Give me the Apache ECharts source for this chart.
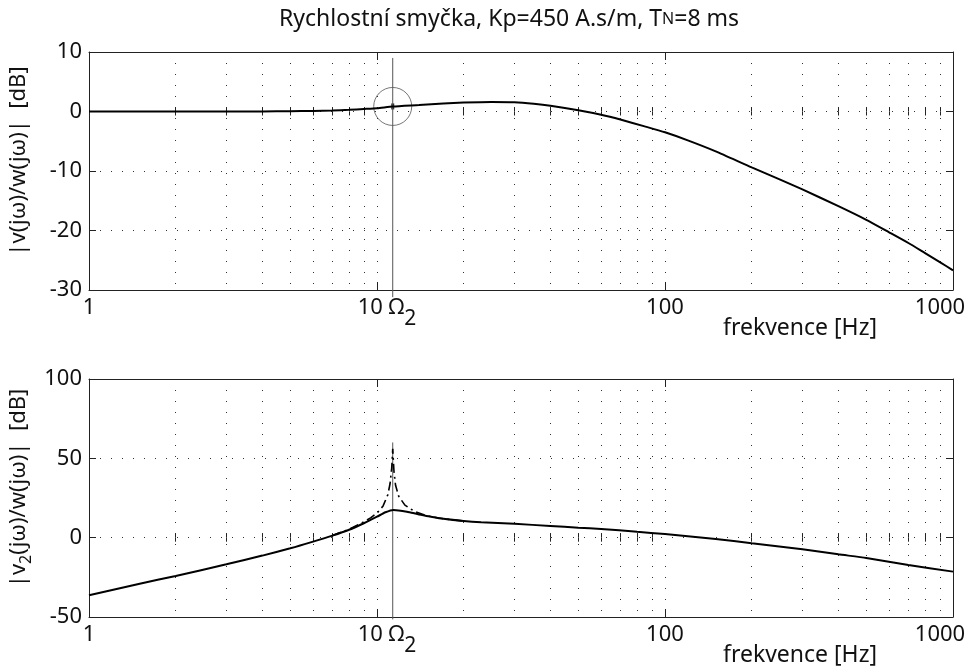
<!DOCTYPE html>
<html><head><meta charset="utf-8">
<script src="https://cdn.jsdelivr.net/npm/echarts@6/dist/echarts.min.js"></script>
<style>html,body{margin:0;padding:0;background:#fff}#c{width:970px;height:669px}</style>
</head><body><div id="c"></div>
<script>
// ---- data ----
const freqTop = [1, 2, 3, 4, 5, 6, 7, 8, 9, 10, 11.34, 14, 17, 20, 25, 30, 35, 40, 50, 60, 70, 85, 100, 120, 150, 200, 250, 300, 400, 500, 600, 700, 800, 900, 1000];
const magTop  = [0, 0, 0.01, 0.02, 0.05, 0.09, 0.15, 0.28, 0.42, 0.55, 0.85, 1.1, 1.35, 1.5, 1.6, 1.55, 1.3, 0.97, 0.2, -0.55, -1.35, -2.5, -3.5, -4.85, -6.7, -9.4, -11.4, -13.1, -15.9, -18.2, -20.3, -22.1, -23.8, -25.3, -26.7];
const freqBot = [1, 1.5, 2, 3, 4, 5, 6, 7, 8, 9, 10, 10.7, 11.4, 12.7, 14, 15.3, 17, 20, 23, 30, 40, 50, 60, 80, 100, 150, 200, 300, 400, 500, 700, 1000];
const magBot  = [-36.3, -29.0, -24.1, -16.8, -11.3, -6.7, -2.5, 1.3, 5.0, 9.1, 13.2, 16.0, 17.5, 16.4, 14.6, 13.3, 11.9, 10.5, 9.7, 8.7, 7.4, 6.3, 5.5, 3.7, 2.3, -0.8, -3.5, -7.3, -10.5, -12.8, -17.2, -21.4];
const freqDash = [7, 8, 9, 9.5, 10, 10.5, 10.9, 11.1, 11.25, 11.34, 11.45, 11.6, 11.9, 12.5, 13.5, 15, 17, 20];
const magDash  = [1.4, 5.3, 10.0, 12.5, 15.5, 20.0, 27.0, 34.0, 44.0, 56.0, 42.0, 33.0, 26.0, 20.5, 16.5, 13.6, 11.9, 10.5];
const omega2 = 11.34;
const markerTopDb = 0.85;
const omegaLineTop = [9, -31.2];
const omegaLineBot = [60, -51.5];
const xMajorTicks = [1, 10, 100, 1000];
const xMinorTicks = [2,3,4,5,6,7,8,9,20,30,40,50,60,70,80,90,200,300,400,500,600,700,800,900];
const yRangeTop = {min: -30, max: 10, interval: 10};
const yRangeBot = {min: -50, max: 100, interval: 50};
const titleParts = ['Rychlostní smyčka, Kp=450 A.s/m, T', 'N', '=8 ms'];
const yNameTopParts = ['|v(jω)/w(jω)|  [dB]'];
const yNameBotParts = ['|v', '2', '(jω)/w(jω)|  [dB]'];
const xName = 'frekvence [Hz]';

// ---- chart ----
const FONT = 'Noto Sans';
const INK = '#111';
const AX = '#222';
const dotted = {show: true, lineStyle: {color: '#333', width: 1, type: [1, 10]}};
const zip = (a, b) => a.map((v, i) => [v, b[i]]);

function xLabel(v) {
  const r = Math.round(v);
  if (r === 10) return '{p|}{n|10 Ω}{s|2}';
  if (r === 1000) return '{m|1000}{q|}';
  return String(r);
}

function xAxes(gi) {
  const base = {type: 'log', logBase: 10, min: 1, max: 1000, gridIndex: gi};
  return [
    Object.assign({}, base, {
      position: 'bottom',
      axisLine: {show: true, onZero: false, lineStyle: {color: AX, width: 1}},
      axisTick: {show: true, inside: true, length: 8, customValues: xMajorTicks, lineStyle: {color: AX}},
      axisLabel: {show: true, customValues: xMajorTicks, margin: 7, color: INK, fontFamily: FONT, fontSize: 22,
        hideOverlap: false, formatter: xLabel,
        rich: {
          p: {width: 20},
          q: {width: 26},
          m: {fontSize: 22, fontFamily: FONT, color: INK},
          n: {fontSize: 22, fontFamily: FONT, color: INK, padding: [0, 0, 11, 0]},
          s: {fontSize: 21, fontFamily: FONT, color: INK, padding: [11, 0, 0, 0]}
        }},
      splitLine: dotted,
      name: xName, nameLocation: 'middle', nameGap: 27, nameMoveOverlap: false,
      nameTextStyle: {fontFamily: FONT, fontSize: 23, color: INK, padding: [0, 0, 0, 558], verticalAlign: 'top'}
    }),
    Object.assign({}, base, {
      position: 'bottom',
      axisLine: {show: false},
      axisTick: {show: true, inside: true, length: 4, customValues: xMinorTicks, lineStyle: {color: AX}},
      axisLabel: {show: false},
      splitLine: dotted
    }),
    Object.assign({}, base, {
      position: 'top',
      axisLine: {show: true, onZero: false, lineStyle: {color: AX, width: 1}},
      axisTick: {show: true, inside: true, length: 8, customValues: xMajorTicks, lineStyle: {color: AX}},
      axisLabel: {show: false}, splitLine: {show: false}
    }),
    Object.assign({}, base, {
      position: 'top',
      axisLine: {show: false},
      axisTick: {show: true, inside: true, length: 4, customValues: xMinorTicks, lineStyle: {color: AX}},
      axisLabel: {show: false}, splitLine: {show: false}
    })
  ];
}
function yName(parts) {
  if (parts.length === 1) return '{a|' + parts[0] + '}';
  return '{a|' + parts[0] + '}{s|' + parts[1] + '}{a|' + parts[2] + '}';
}
function yAxes(gi, r, nameParts) {
  return [
    {type: 'value', gridIndex: gi, min: r.min, max: r.max, interval: r.interval, position: 'left',
     axisLine: {show: true, onZero: false, lineStyle: {color: AX}},
     axisTick: {show: true, inside: true, length: 7, lineStyle: {color: AX}},
     axisLabel: {color: INK, fontFamily: FONT, fontSize: 22, margin: 7},
     splitLine: dotted,
     name: yName(nameParts), nameLocation: 'middle', nameRotate: 90, nameGap: 52, nameMoveOverlap: false,
     nameTextStyle: {fontFamily: FONT, fontSize: 22, color: INK, padding: [0, 0, 0, 20],
       rich: {
         a: {fontFamily: FONT, fontSize: 22, color: INK, padding: [0, 0, 7, 0]},
         s: {fontFamily: FONT, fontSize: 16, color: INK, padding: [7, 0, 0, 0]}
       }}},
    {type: 'value', gridIndex: gi, min: r.min, max: r.max, interval: r.interval, position: 'right',
     axisLine: {show: true, onZero: false, lineStyle: {color: AX}},
     axisTick: {show: true, inside: true, length: 7, lineStyle: {color: AX}},
     axisLabel: {show: false}, splitLine: {show: false}}
  ];
}

const chart = echarts.init(document.getElementById('c'), null, {renderer: 'canvas'});
chart.setOption({
  backgroundColor: '#fff',
  animation: false,
  title: {
    text: '{a|' + titleParts[0] + '}{b|' + titleParts[1] + '}{a|' + titleParts[2] + '}',
    left: 274, top: 3,
    textStyle: {fontWeight: 'normal', rich: {
      a: {fontFamily: FONT, fontSize: 23, fontWeight: 'normal', color: INK},
      b: {fontFamily: FONT, fontSize: 16, fontWeight: 'normal', color: INK}
    }}
  },
  grid: [
    {left: 89, right: 17, top: 52, height: 238, outerBoundsMode: 'none', containLabel: false},
    {left: 89, right: 17, top: 379, height: 238, outerBoundsMode: 'none', containLabel: false}
  ],
  xAxis: xAxes(0).concat(xAxes(1)),
  yAxis: yAxes(0, yRangeTop, yNameTopParts).concat(yAxes(1, yRangeBot, yNameBotParts)),
  series: [
    {type: 'line', xAxisIndex: 0, yAxisIndex: 0, data: [[omega2, omegaLineTop[0]], [omega2, omegaLineTop[1]]],
     showSymbol: false, clip: false, lineStyle: {color: '#555', width: 1}, silent: true},
    {type: 'line', xAxisIndex: 0, yAxisIndex: 0, data: zip(freqTop, magTop), showSymbol: false,
     smooth: 0.2, lineStyle: {color: '#000', width: 2}},
    {type: 'scatter', xAxisIndex: 0, yAxisIndex: 0, data: [[omega2, markerTopDb]], symbol: 'circle', symbolSize: 38,
     itemStyle: {color: 'rgba(0,0,0,0)', borderColor: '#555', borderWidth: 1}},
    {type: 'scatter', xAxisIndex: 0, yAxisIndex: 0, data: [[omega2, markerTopDb]], symbol: 'rect', symbolSize: [3, 6],
     itemStyle: {color: '#000'}},
    {type: 'line', xAxisIndex: 4, yAxisIndex: 2, data: [[omega2, omegaLineBot[0]], [omega2, omegaLineBot[1]]],
     showSymbol: false, clip: false, lineStyle: {color: '#555', width: 1}, silent: true},
    {type: 'line', xAxisIndex: 4, yAxisIndex: 2, data: zip(freqDash, magDash), showSymbol: false,
     lineStyle: {color: '#000', width: 1.6, type: [9, 4, 2, 4]}},
    {type: 'line', xAxisIndex: 4, yAxisIndex: 2, data: zip(freqBot, magBot), showSymbol: false,
     smooth: 0.2, lineStyle: {color: '#000', width: 2}}
  ]
});
</script></body></html>
